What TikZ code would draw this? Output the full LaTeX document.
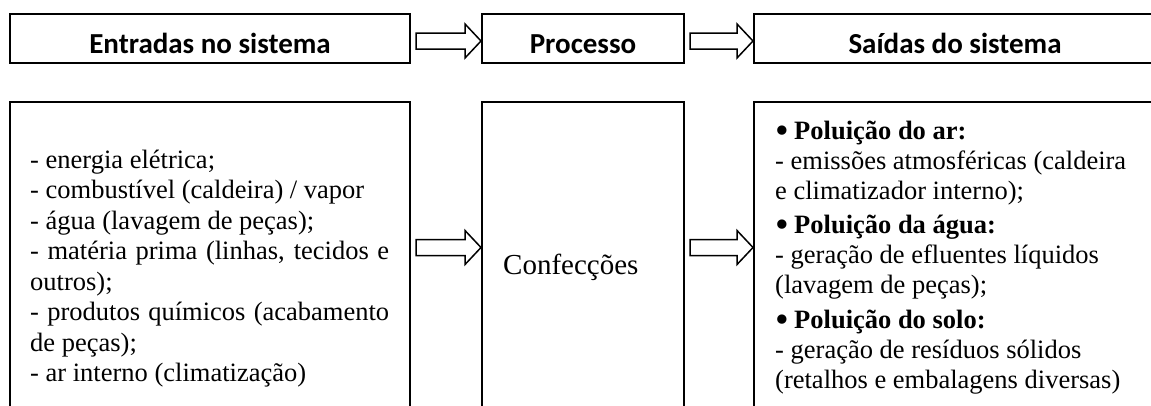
\documentclass[tikz,border=0pt]{standalone}
\usepackage{fontspec}
\setmainfont{Liberation Serif}
\newfontfamily\headfont{Carlito}
\usetikzlibrary{calc}
\newcommand\blockarr[3]{%
  \draw[barrow] let \p1=(#1.east), \p2=(#2.west) in
   (\x1+6pt,-#3pt+8pt) -- (\x2-17pt,-#3pt+8pt) -- (\x2-17pt,-#3pt+17pt) --
   (\x2-1pt,-#3pt) -- (\x2-17pt,-#3pt-17pt) -- (\x2-17pt,-#3pt-8pt) --
   (\x1+6pt,-#3pt-8pt) -- cycle;}
\newcommand\bigbul{\makebox[19pt][l]{\raisebox{-4.3pt}{\fontsize{39}{30}\selectfont •}}}
\begin{document}
\begin{tikzpicture}[x=1pt,y=-1pt,
  box/.style={draw, line width=2pt, inner sep=0pt, outer sep=0pt, anchor=north west},
  head/.style={box, font=\headfont\bfseries\fontsize{29}{34}\selectfont,
    text height=29pt, text depth=0pt, minimum height=49pt},
  body/.style={inner sep=0pt, anchor=base west},
  barrow/.style={draw, line width=1.5pt, line join=miter, fill=white}]
\path[use as bounding box, fill=white] (0,0) rectangle (1151,405);
\clip (0,0) rectangle (1151,405);
% header boxes
\node[head, minimum width=400pt] (h1) at (10,14) {Entradas no sistema};
\node[head, minimum width=202pt] (h2) at (482,14) {Processo};
\node[head, minimum width=402pt] (h3) at (754,14) {Saídas do sistema};
% content boxes
\node[box, minimum width=400pt, minimum height=330pt] (b1) at (10,102) {};
\node[box, minimum width=202pt, minimum height=330pt] (b2) at (482,102) {};
\node[box, minimum width=402pt, minimum height=330pt] (b3) at (754,102) {};
% texts
\node[body, font=\fontsize{26.5}{30.5}\selectfont] (t1) at (30,168) {\parbox[t]{359pt}{%
- energia elétrica;\\
- combustível (caldeira) / vapor\\
- água (lavagem de peças);\\
\makebox[\linewidth][s]{- matéria prima (linhas, tecidos e}\\
outros);\\
\makebox[\linewidth][s]{- produtos químicos (acabamento}\\
de peças);\\
- ar interno (climatização)}};
\node[body, font=\fontsize{29}{34}\selectfont] (t2) at (503,274) {Confecções};
\node[body, font=\fontsize{26.5}{30}\selectfont] (t3) at (775,139) {\parbox[t]{370pt}{%
\bigbul\textbf{Poluição do ar:}\\
- emissões atmosféricas (caldeira\\
e climatizador interno);\\[4.5pt]
\bigbul\textbf{Poluição da água:}\\
- geração de efluentes líquidos\\
(lavagem de peças);\\[4.5pt]
\bigbul\textbf{Poluição do solo:}\\
- geração de resíduos sólidos\\
(retalhos e embalagens diversas)}};
% block arrows
\blockarr{h1}{h2}{41}
\blockarr{h2}{h3}{41}
\blockarr{b1}{b2}{247.5}
\blockarr{b2}{b3}{247.5}
\end{tikzpicture}
\end{document}
